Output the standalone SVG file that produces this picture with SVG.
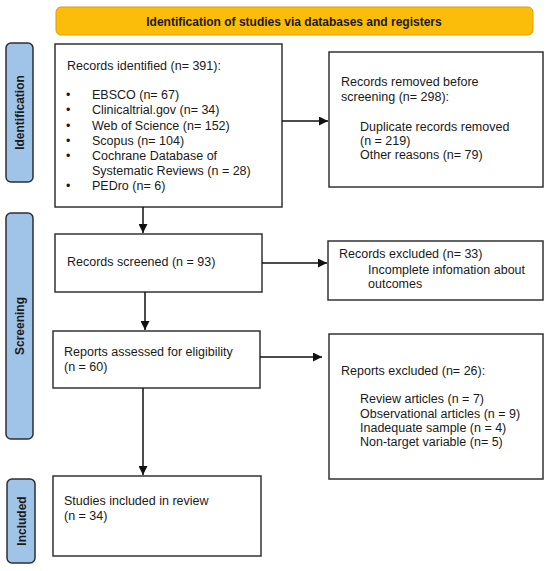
<svg xmlns="http://www.w3.org/2000/svg" width="550" height="571" viewBox="0 0 550 571">
<defs>
<marker id="ah" viewBox="0 0 10 10" refX="10" refY="5" markerWidth="9" markerHeight="9" markerUnits="userSpaceOnUse" orient="auto">
<path d="M0,0 L10,5 L0,10 z" fill="#111"/>
</marker>
<style>
.box{fill:#fff;stroke:#333;stroke-width:1.5}
.side{fill:#A0C3E8;stroke:#2b2f36;stroke-width:1.5}
.t{font-family:"Liberation Sans",Arial,sans-serif;font-size:12.5px;fill:#1a1a1a}
.sl{font-family:"Liberation Sans",Arial,sans-serif;font-size:12px;font-weight:bold;fill:#1a1a1a;text-anchor:middle}
.c{stroke:#111;stroke-width:1.5;fill:none}
</style>
</defs>
<rect width="550" height="571" fill="#fff"/>
<g id="banner">
<rect x="56" y="7" width="477" height="28" rx="5" fill="#FBBC0A" stroke="#D9A000" stroke-width="1"/>
<text x="294" y="26" class="sl" font-size="13.5">Identification of studies via databases and registers</text>
</g>
<g id="lbl-identification">
<rect x="6" y="43" width="27" height="139" rx="5" class="side"/>
<text class="sl" transform="translate(24,112.5) rotate(-90)">Identification</text>
</g>
<g id="lbl-screening">
<rect x="6" y="213" width="27" height="226" rx="5" class="side"/>
<text class="sl" transform="translate(24,326) rotate(-90)">Screening</text>
</g>
<g id="lbl-included">
<rect x="7" y="479" width="28" height="84" rx="5" class="side"/>
<text class="sl" transform="translate(25.5,521) rotate(-90)">Included</text>
</g>
<g id="n-identified">
<rect x="55" y="44" width="227" height="163" class="box"/>
<text class="t" x="67" y="70">Records identified (n= 391):</text>
<g class="t">
<text x="66" y="99">•</text><text x="92" y="99">EBSCO (n= 67)</text>
<text x="66" y="114">•</text><text x="92" y="114">Clinicaltrial.gov (n= 34)</text>
<text x="66" y="130">•</text><text x="92" y="130">Web of Science (n= 152)</text>
<text x="66" y="145">•</text><text x="92" y="145">Scopus (n= 104)</text>
<text x="66" y="160">•</text><text x="92" y="160">Cochrane Database of</text>
<text x="92" y="175">Systematic Reviews (n = 28)</text>
<text x="66" y="190">•</text><text x="92" y="190">PEDro (n= 6)</text>
</g>
</g>
<g id="n-removed">
<rect x="329" y="52" width="214" height="135" class="box"/>
<text class="t" x="341" y="86">Records removed before</text>
<text class="t" x="341" y="101">screening (n= 298):</text>
<text class="t" x="360" y="131">Duplicate records removed</text>
<text class="t" x="360" y="145">(n = 219)</text>
<text class="t" x="360" y="159">Other reasons (n= 79)</text>
</g>
<g id="n-screened">
<rect x="55" y="234" width="207" height="58" class="box"/>
<text class="t" x="67" y="266">Records screened (n = 93)</text>
</g>
<g id="n-excluded">
<rect x="328" y="241" width="215" height="59" class="box"/>
<text class="t" x="339" y="258">Records excluded (n= 33)</text>
<text class="t" x="368" y="274">Incomplete infomation about</text>
<text class="t" x="368" y="288">outcomes</text>
</g>
<g id="n-assessed">
<rect x="53" y="331" width="207" height="57" class="box"/>
<text class="t" x="64" y="356">Reports assessed for eligibility</text>
<text class="t" x="64" y="371">(n = 60)</text>
</g>
<g id="n-reports-excluded">
<rect x="329" y="334" width="214" height="145" class="box"/>
<text class="t" x="341" y="375">Reports excluded (n= 26):</text>
<text class="t" x="360" y="403">Review articles (n = 7)</text>
<text class="t" x="360" y="418">Observational articles (n = 9)</text>
<text class="t" x="360" y="432">Inadequate sample (n = 4)</text>
<text class="t" x="360" y="446">Non-target variable (n= 5)</text>
</g>
<g id="n-included">
<rect x="53" y="476" width="208" height="80" class="box"/>
<text class="t" x="64" y="505">Studies included in review</text>
<text class="t" x="64" y="520">(n = 34)</text>
</g>
<g id="connectors">
<line class="c" x1="143" y1="207" x2="143" y2="233" marker-end="url(#ah)"/>
<line class="c" x1="282" y1="121" x2="328" y2="121" marker-end="url(#ah)"/>
<line class="c" x1="145" y1="292" x2="145" y2="330" marker-end="url(#ah)"/>
<line class="c" x1="262" y1="263" x2="327" y2="263" marker-end="url(#ah)"/>
<line class="c" x1="143" y1="388" x2="143" y2="475" marker-end="url(#ah)"/>
<line class="c" x1="260" y1="357" x2="322" y2="357" marker-end="url(#ah)"/>
</g>
</svg>
